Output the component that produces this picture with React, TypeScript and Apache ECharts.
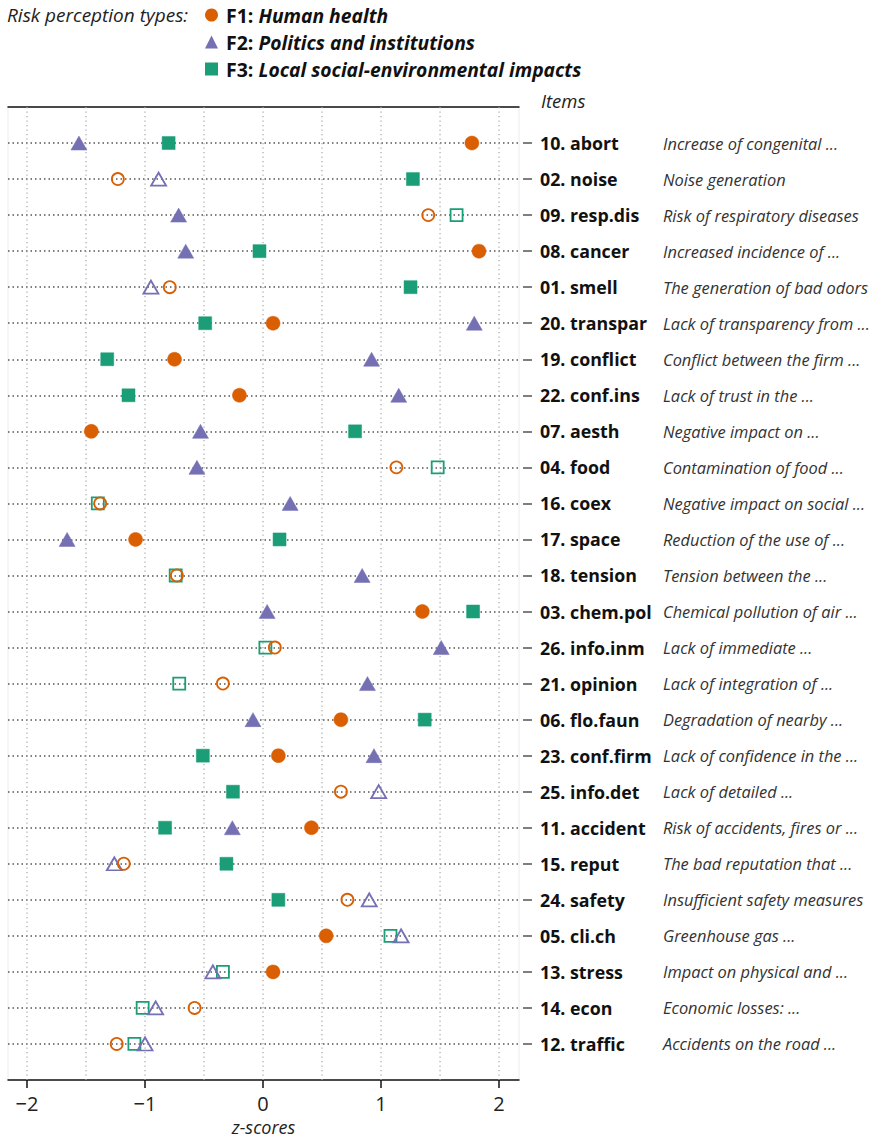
import React, { useEffect, useRef } from "react";
import * as echarts from "echarts";

const items = [
  "10. abort", "02. noise", "09. resp.dis", "08. cancer", "01. smell", "20. transpar",
  "19. conflict", "22. conf.ins", "07. aesth", "04. food", "16. coex", "17. space",
  "18. tension", "03. chem.pol", "26. info.inm", "21. opinion", "06. flo.faun", "23. conf.firm",
  "25. info.det", "11. accident", "15. reput", "24. safety", "05. cli.ch", "13. stress",
  "14. econ", "12. traffic",
];

const descriptions = [
  "Increase of congenital ...", "Noise generation", "Risk of respiratory diseases",
  "Increased incidence of ...", "The generation of bad odors", "Lack of transparency from ...",
  "Conflict between the firm ...", "Lack of trust in the ...", "Negative impact on ...",
  "Contamination of food ...", "Negative impact on social ...", "Reduction of the use of ...",
  "Tension between the ...", "Chemical pollution of air ...", "Lack of immediate ...",
  "Lack of integration of ...", "Degradation of nearby ...", "Lack of confidence in the ...",
  "Lack of detailed ...", "Risk of accidents, fires or ...", "The bad reputation that ...",
  "Insufficient safety measures", "Greenhouse gas ...", "Impact on physical and ...",
  "Economic losses: ...", "Accidents on the road ...",
];

const f1Values = [1.77, -1.23, 1.40, 1.83, -0.79, 0.085, -0.75, -0.20, -1.455, 1.13, -1.38, -1.08, -0.73,
  1.35, 0.10, -0.34, 0.66, 0.13, 0.66, 0.41, -1.18, 0.715, 0.535, 0.085, -0.58, -1.24];
const f2Values = [-1.56, -0.885, -0.715, -0.655, -0.95, 1.79, 0.92, 1.15, -0.53, -0.56, 0.23, -1.66, 0.84,
  0.035, 1.51, 0.885, -0.085, 0.94, 0.98, -0.26, -1.26, 0.90, 1.17, -0.425, -0.91, -1.00];
const f3Values = [-0.80, 1.27, 1.64, -0.03, 1.25, -0.49, -1.32, -1.14, 0.78, 1.48, -1.40, 0.14, -0.74,
  1.78, 0.02, -0.71, 1.37, -0.51, -0.255, -0.83, -0.31, 0.13, 1.08, -0.34, -1.02, -1.09];

// 1 = filled marker, 0 = hollow marker
const f1Filled = [1, 0, 0, 1, 0, 1, 1, 1, 1, 0, 0, 1, 0, 1, 0, 0, 1, 1, 0, 1, 0, 0, 1, 1, 0, 0];
const f2Filled = [1, 0, 1, 1, 0, 1, 1, 1, 1, 1, 1, 1, 1, 1, 1, 1, 1, 1, 0, 1, 0, 0, 0, 0, 0, 0];
const f3Filled = [1, 1, 0, 1, 1, 1, 1, 1, 1, 0, 0, 1, 0, 1, 0, 0, 1, 1, 1, 1, 1, 1, 0, 0, 0, 0];

const xTicks = [-2, -1, 0, 1, 2];
const xGridLines = [-2, -1.5, -1, -0.5, 0, 0.5, 1, 1.5, 2];

const factorNames = ["F1", "F2", "F3"];
const factorTitles = ["Human health", "Politics and institutions", "Local social-environmental impacts"];

const FONT = "Open Sans";
const COLORS = ["#d95f02", "#7570b3", "#1b9e77"];

export default function App() {
  const ref = useRef<HTMLDivElement>(null);

  useEffect(() => {
    if (!ref.current) return;
    const chart = echarts.init(ref.current, null, { renderer: "svg" });

    const rowValues = items.map((_, i) => i + 1);
    const yMin = 0;
    const yMax = items.length + 1;

    const makeSeries = (
      name: string,
      values: number[],
      filled: number[],
      color: string,
      symbol: string,
      filledSize: any,
      hollowSize: any,
      z: number
    ) => ({
      name,
      type: "scatter",
      symbol,
      z,
      itemStyle: { color, opacity: 1 },
      data: values.map((v, i) => ({
        value: [v, rowValues[i]],
        symbolSize: filled[i] ? filledSize : hollowSize,
        itemStyle: filled[i]
          ? { color, borderColor: color, borderWidth: 0.5, opacity: 1 }
          : { color: "rgba(255,255,255,0)", borderColor: color, borderWidth: 1.8, opacity: 1 },
      })),
    });

    const option: any = {
      animation: false,
      textStyle: { fontFamily: FONT },
      title: {
        text: "Risk perception types:",
        left: 7,
        top: 5,
        padding: 0,
        textStyle: { fontFamily: FONT, fontStyle: "italic", fontWeight: "normal", fontSize: 19, color: "#222" },
      },
      legend: {
        orient: "vertical",
        left: 205,
        top: 5,
        padding: 0,
        itemGap: 7,
        itemWidth: 13,
        itemHeight: 13,
        selectedMode: false,
        data: factorNames,
        formatter: (name: string) => {
          const i = factorNames.indexOf(name);
          return `{b|${name}:}{bi|${factorTitles[i]}}`;
        },
        textStyle: {
          fontFamily: FONT,
          rich: {
            b: { fontFamily: FONT, fontWeight: "bold", fontSize: 19.5, color: "#111", lineHeight: 20, padding: [0, 0, 0, 3] },
            bi: { fontFamily: FONT, fontWeight: "bold", fontStyle: "italic", fontSize: 19.3, color: "#111", lineHeight: 20, padding: [0, 0, 0, 5] },
          },
        },
      },
      graphic: [
        {
          type: "text",
          left: 541,
          top: 91,
          style: { text: "Items", fontFamily: FONT, fontStyle: "italic", fontSize: 18.5, fill: "#222" },
        },
      ],
      grid: {
        left: 8,
        right: 352,
        top: 107,
        bottom: 58,
        show: true,
        borderColor: "#ececec",
        borderWidth: 1,
        outerBoundsMode: "none",
        containLabel: false,
      },
      xAxis: [
        {
          type: "value",
          position: "bottom",
          min: -2.161,
          max: 2.169,
          axisLine: { show: true, onZero: false, lineStyle: { color: "#111", width: 1.5 } },
          axisTick: { show: true, length: 8, customValues: xTicks, lineStyle: { color: "#111", width: 1.5 } },
          axisLabel: {
            customValues: xTicks,
            margin: 13,
            fontFamily: FONT,
            fontSize: 20,
            color: "#222",
            formatter: (v: number) => (v < 0 ? "\u2212" + Math.abs(v) : String(v)),
          },
          splitLine: { show: false },
          name: "z-scores",
          nameLocation: "middle",
          nameGap: 33,
          nameTextStyle: { fontFamily: FONT, fontStyle: "italic", fontSize: 18, color: "#222" },
        },
        {
          type: "value",
          position: "top",
          min: -2.161,
          max: 2.169,
          axisLine: { show: true, onZero: false, lineStyle: { color: "#111", width: 1.5 } },
          axisTick: { show: false },
          axisLabel: { show: false },
          splitLine: { show: false },
        },
      ],
      yAxis: {
        type: "value",
        position: "right",
        offset: 4,
        inverse: true,
        min: yMin,
        max: yMax,
        interval: 1,
        axisLine: { show: false, onZero: false },
        axisTick: {
          show: true,
          length: 9,
          customValues: rowValues,
          lineStyle: { color: "#555", width: 1.5 },
        },
        splitLine: {
          show: true,
          lineStyle: { color: "#555", width: 1.5, type: [1.5, 3] },
        },
        axisLabel: {
          customValues: rowValues,
          margin: 17,
          align: "left",
          formatter: (v: number) => {
            const i = Math.round(v) - 1;
            if (i < 0 || i >= items.length) return "";
            return `{a|${items[i]}}{d|${descriptions[i]}}`;
          },
          rich: {
            a: { fontFamily: FONT, fontWeight: "bold", fontSize: 17.8, color: "#111", width: 123 },
            d: { fontFamily: FONT, fontStyle: "italic", fontSize: 16.4, color: "#333" },
          },
        },
      },
      series: [
        {
          name: "xgrid",
          type: "custom",
          z: 1,
          silent: true,
          clip: false,
          data: xGridLines.map((v) => [v, yMin]),
          renderItem: (_params: any, api: any) => {
            const x = api.value(0);
            const p1 = api.coord([x, yMin]);
            const p2 = api.coord([x, yMax]);
            return {
              type: "line",
              shape: { x1: p1[0], y1: p1[1], x2: p2[0], y2: p2[1] },
              style: { stroke: "#a6a6a6", lineWidth: 1.2, lineDash: [1.2, 3.3], fill: null },
            };
          },
        },
        makeSeries("F3", f3Values, f3Filled, COLORS[2], "rect", 13, 12, 3),
        makeSeries("F2", f2Values, f2Filled, COLORS[1], "triangle", [16, 14], [15, 13], 4),
        makeSeries("F1", f1Values, f1Filled, COLORS[0], "circle", 14, 12, 5),
      ],
    };

    chart.setOption(option);
    return () => chart.dispose();
  }, []);

  return (
    <div
      ref={ref}
      style={{ position: "absolute", left: 0, top: 0, width: 871, height: 1138, background: "#fff" }}
    />
  );
}
